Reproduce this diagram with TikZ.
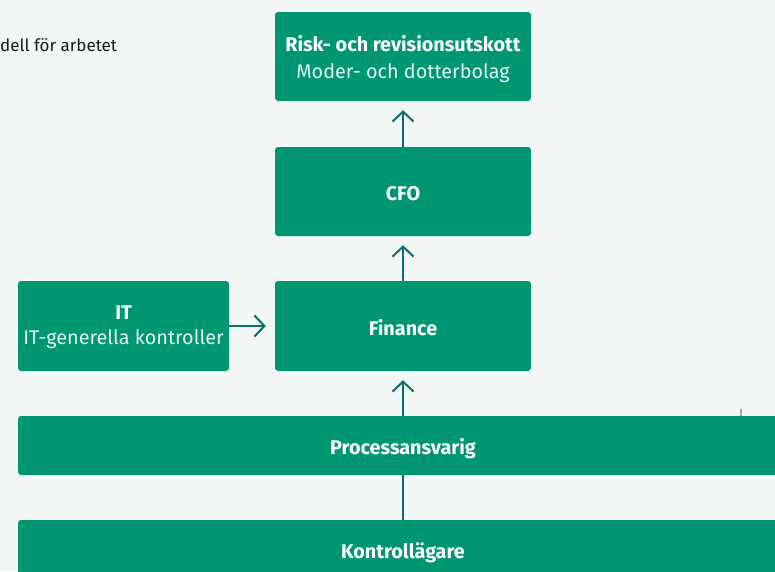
\documentclass[tikz,border=0pt]{standalone}
\usepackage{fontspec}
\setmainfont{Fira Sans}
\usetikzlibrary{arrows.meta}
\definecolor{bgc}{HTML}{F2F7F5}
\definecolor{boxc}{HTML}{009673}
\definecolor{arrc}{HTML}{0B6E68}
\definecolor{subc}{HTML}{E2F4EE}
\tikzset{
  gbox/.style={fill=boxc, rounded corners=3pt, inner sep=0pt},
  txt/.style={text=white, align=center, inner sep=0pt, font=\fontsize{19.8}{26.5}\selectfont},
  conn/.style={draw=arrc, line width=2pt},
  arr/.style={conn, -{Straight Barb[length=10pt,width=21pt,line width=2pt]}, shorten >=9pt},
  wide/.style={font=\fontsize{19.8}{24}\selectfont\bfseries, text=white}
}
\begin{document}
\begin{tikzpicture}[x=1pt,y=-1pt]
\fill[bgc] (0,0) rectangle (775,571);
\useasboundingbox (0,0) rectangle (775,571);
\node[anchor=west, inner sep=0pt, font=\fontsize{17}{20}\selectfont, text=black!90] (title) at (0,45) {dell för arbetet};
\node[gbox, minimum width=256pt, minimum height=89pt] (risk) at (403,56.5) {};
\node[txt] (risktxt) at ([yshift=-2.5pt]risk.center) {\textbf{Risk- och revisionsutskott}\\\textcolor{subc}{Moder- och dotterbolag}};
\node[gbox, minimum width=256pt, minimum height=89pt] (cfo) at (403,191.5) {};
\node[txt] (cfotxt) at ([yshift=-2pt]cfo.center) {\textbf{CFO}};
\node[gbox, minimum width=256pt, minimum height=90pt] (fin) at (403,326) {};
\node[txt] (fintxt) at ([yshift=-1.5pt]fin.center) {\textbf{Finance}};
\node[gbox, minimum width=211pt, minimum height=90pt] (it) at (123.5,326) {};
\node[txt, font=\fontsize{19.8}{25}\selectfont] (ittxt) at ([yshift=-1.5pt]it.center) {\textbf{IT}\\\textcolor{subc}{IT-generella kontroller}};
\fill[boxc, rounded corners=3pt] (18,416) rectangle (790,475);
\node[wide] (proc) at (403,448.5) {Processansvarig};
\coordinate (proctop) at (403,416);
\coordinate (procbot) at (403,475);
\fill[boxc, rounded corners=3pt] (18,520) rectangle (790,590);
\node[wide] (kont) at (403,553) {Kontrollägare};
\coordinate (konttop) at (403,520);
\draw[arr] (cfo.north) -- (risk.south);
\draw[arr] (fin.north) -- (cfo.south);
\draw[arr] (proctop) -- (fin.south);
\draw[arr] (it.east) -- (fin.west);
\draw[conn] (procbot) -- (konttop);
\draw[gray!70, line width=1.5pt] (741,409) -- (741,416);
\end{tikzpicture}
\end{document}
